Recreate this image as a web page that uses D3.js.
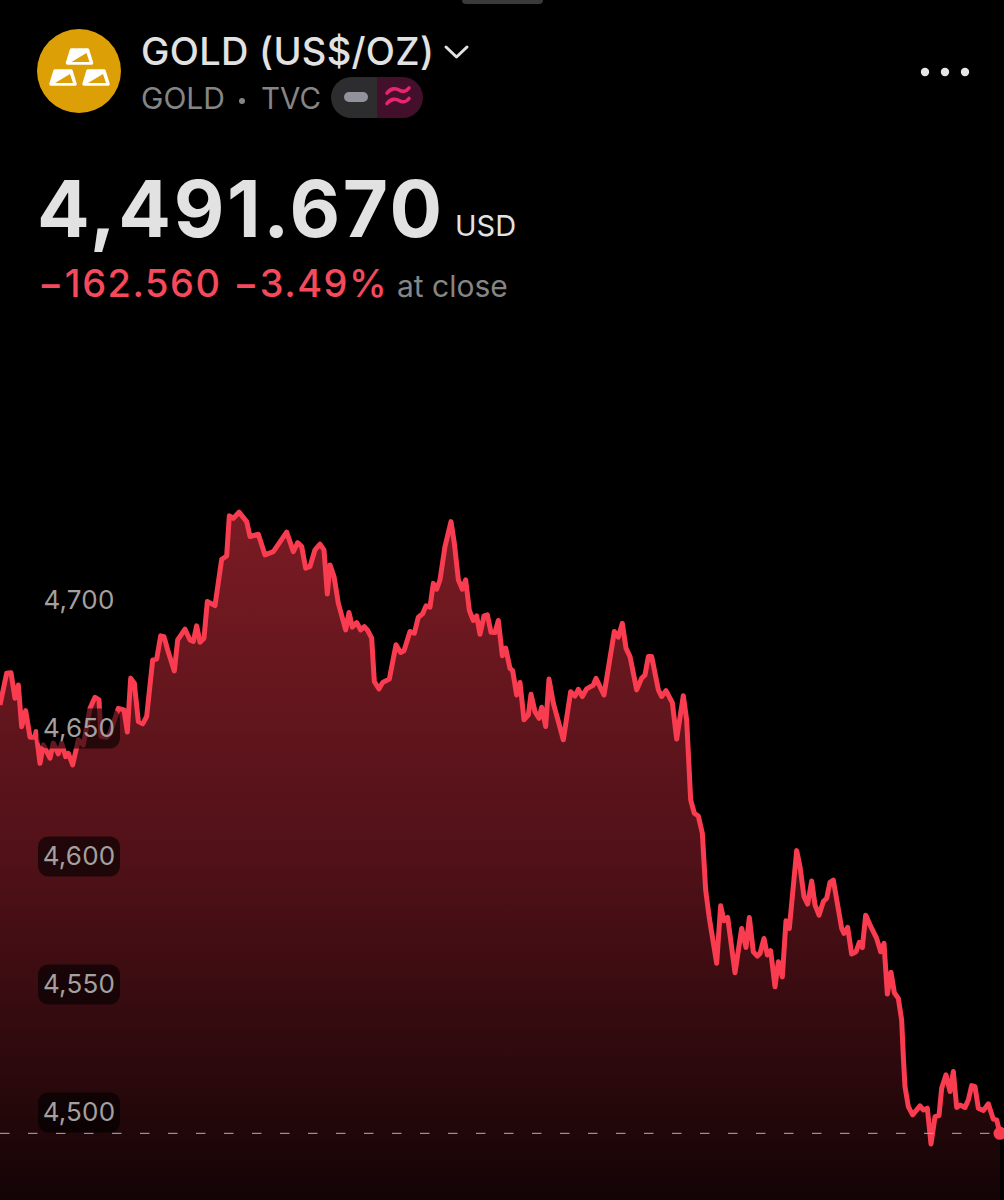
<!DOCTYPE html>
<html>
<head>
<meta charset="utf-8">
<script src="https://cdn.jsdelivr.net/npm/d3@7"></script>
<style>
    html, body { margin: 0; padding: 0; background: #000; }
    svg { display: block; font-family: Inter, "Noto Sans", sans-serif; }
</style>
</head>
<body>
<div id="canvas"></div>
<script>
"use strict"

/* minutes since the start of the session */
const times = [
    0, 10, 16.5, 22.5, 27.5, 32.5, 38.5, 45, 52.5, 54, 56.5, 60, 65, 75, 80, 87.5, 92.5, 98.5, 102.5, 109,
    117.5, 125, 135, 142.5, 148.5, 151.5, 160, 165, 177.5, 186, 191, 196, 201.5, 207.5, 214, 220, 229, 235, 241, 246,
    251.5, 261.5, 266.5, 277.5, 285, 290, 295, 300, 306, 311, 322.5, 332.5, 340, 344, 350, 358.5, 370, 375, 387.5, 397.5,
    410, 430, 440, 446.5, 452.5, 458.5, 465, 472.5, 480, 486, 491, 495, 501, 507.5, 518.5, 523.5, 528.5, 535, 541, 546.5,
    551.5, 557.5, 561.5, 568.5, 574, 584, 594, 601, 606, 615, 621.5, 627.5, 634, 639, 645, 650, 655, 660, 667.5, 676.5,
    681.5, 687.5, 693.5, 698.5, 704, 710, 715, 720, 726, 731, 736.5, 742.5, 747.5, 753.5, 758.5, 765, 769, 775, 780, 786,
    792.5, 796.5, 802.5, 808.5, 812.5, 818.5, 823.5, 830, 845, 856, 862.5, 867.5, 873.5, 880, 890, 894, 906, 921.5, 927.5, 933.5,
    939, 945, 955, 962.5, 967.5, 972.5, 977.5, 987.5, 992.5, 999, 1008.5, 1015, 1025, 1030, 1036, 1041.5, 1047.5, 1053.5, 1058.5, 1064,
    1075, 1081, 1086, 1091.5, 1102.5, 1112.5, 1119, 1124, 1130, 1136, 1140, 1146, 1151, 1156, 1162.5, 1167.5, 1173.5, 1179, 1184, 1195,
    1200, 1206, 1211.5, 1217.5, 1222.5, 1228.5, 1235, 1240, 1245, 1250, 1262.5, 1266, 1271.5, 1277.5, 1284, 1289, 1293.5, 1298.5, 1305, 1315,
    1321, 1326, 1331, 1336.5, 1341.5, 1347.5, 1352.5, 1355, 1357.5, 1362.5, 1369, 1380, 1385, 1391, 1396.5, 1402.5, 1408.5, 1412.5, 1419, 1425,
    1430, 1435, 1440, 1447.5, 1452.5, 1457.5, 1462.5, 1467.5, 1475, 1482.5, 1490, 1495, 1500
];

/* gold price in USD at each of those times */
const prices = [
    4659.0, 4671.4, 4671.6, 4661.6, 4666.8, 4650.5, 4656.8, 4646.4, 4646.4, 4648.6, 4643.4, 4636.2, 4643.4, 4638.2, 4644.1, 4639.9, 4644.1, 4638.8, 4640.1, 4635.6,
    4645.4, 4643.4, 4657.7, 4662.0, 4661.0, 4646.7, 4646.4, 4648.0, 4657.7, 4657.1, 4648.4, 4669.4, 4667.5, 4652.5, 4651.6, 4654.5, 4676.6, 4676.9, 4686.0, 4685.7,
    4680.5, 4672.3, 4684.4, 4688.6, 4684.4, 4683.8, 4689.9, 4683.5, 4685.1, 4699.4, 4697.8, 4715.9, 4717.2, 4732.9, 4731.9, 4734.3, 4730.6, 4724.8, 4725.7, 4717.6,
    4718.9, 4726.5, 4718.9, 4722.4, 4720.9, 4712.4, 4713.1, 4719.6, 4721.8, 4719.6, 4702.3, 4713.7, 4709.2, 4698.7, 4688.3, 4695.1, 4689.4, 4691.2, 4688.3, 4689.6,
    4688.1, 4685.1, 4668.1, 4665.3, 4667.8, 4669.1, 4682.5, 4679.5, 4680.2, 4687.7, 4687.0, 4693.3, 4694.6, 4697.7, 4697.2, 4706.5, 4704.2, 4707.9, 4720.9, 4730.6,
    4722.2, 4707.9, 4704.2, 4707.9, 4695.9, 4692.0, 4693.8, 4686.6, 4693.8, 4694.2, 4687.4, 4687.3, 4692.0, 4678.2, 4681.2, 4673.3, 4672.4, 4662.9, 4667.8, 4653.2,
    4655.1, 4663.2, 4656.4, 4653.8, 4658.1, 4650.6, 4669.1, 4659.7, 4645.4, 4664.2, 4662.5, 4665.1, 4662.3, 4665.3, 4666.8, 4669.4, 4662.9, 4687.7, 4685.5, 4690.9,
    4681.2, 4677.9, 4664.9, 4669.4, 4670.7, 4677.9, 4677.9, 4664.9, 4662.3, 4664.6, 4659.9, 4645.7, 4662.6, 4653.1, 4621.9, 4616.7, 4615.6, 4608.9, 4586.7, 4575.7,
    4558.1, 4580.6, 4574.7, 4576.0, 4554.4, 4571.7, 4564.3, 4576.0, 4562.6, 4560.9, 4561.9, 4567.8, 4561.3, 4563.0, 4548.9, 4558.7, 4552.8, 4574.7, 4571.7, 4602.1,
    4595.8, 4584.1, 4581.2, 4590.2, 4580.9, 4576.9, 4582.2, 4583.5, 4589.7, 4590.6, 4571.7, 4569.8, 4572.1, 4561.7, 4562.6, 4566.3, 4564.2, 4576.9, 4573.1, 4567.8,
    4562.6, 4565.9, 4546.1, 4554.6, 4546.6, 4544.4, 4535.9, 4521.6, 4509.9, 4502.1, 4498.9, 4502.4, 4500.8, 4501.5, 4487.5, 4498.2, 4498.6, 4509.3, 4514.5, 4508.0,
    4515.8, 4501.8, 4502.7, 4501.8, 4504.7, 4510.3, 4509.9, 4501.5, 4500.6, 4503.2, 4497.2, 4496.9, 4491.7
];

const priceTicks = [4700, 4650, 4600, 4550, 4500];
const lastClose = 4491.67;

const width = 1004;
const height = 1200;

let drawing = d3.select("#canvas")
    .append("svg")
    .attr("width", width)
    .attr("height", height);

drawing.append("rect")
    .attr("width", width)
    .attr("height", height)
    .attr("fill", "#000");

let xScale = d3.scaleLinear().domain([0, 1500]).range([0, 1000]);
let yScale = d3.scaleLinear().domain([4500, 4700]).range([1112, 600]);

/* fill under the line, fades out towards the bottom */
let gradient = drawing.append("defs").append("linearGradient")
    .attr("id", "areaFill")
    .attr("gradientUnits", "userSpaceOnUse")
    .attr("x1", 0).attr("x2", 0)
    .attr("y1", 515).attr("y2", height);
gradient.append("stop").attr("offset", "0%").attr("stop-color", "#7a1b23");
gradient.append("stop").attr("offset", "50%").attr("stop-color", "#511118");
gradient.append("stop").attr("offset", "100%").attr("stop-color", "#140405");

const series = times.map((t, i) => [t, prices[i]]);

let area = d3.area()
    .x(d => xScale(d[0]))
    .y0(height)
    .y1(d => yScale(d[1]));

let line = d3.line()
    .x(d => xScale(d[0]))
    .y(d => yScale(d[1]));

drawing.append("path")
    .attr("d", area(series))
    .attr("fill", "url(#areaFill)");

drawing.append("path")
    .attr("d", line(series))
    .attr("fill", "none")
    .attr("stroke", "#f93c4f")
    .attr("stroke-width", 5)
    .attr("stroke-linejoin", "round");

/* dashed line at the last close */
drawing.append("line")
    .attr("x1", 0)
    .attr("x2", width)
    .attr("y1", yScale(lastClose))
    .attr("y2", yScale(lastClose))
    .attr("stroke", "#b5b0b0")
    .attr("stroke-width", 1)
    .attr("stroke-dasharray", "9.5 18.5");

drawing.append("circle")
    .attr("cx", xScale(times[times.length - 1]))
    .attr("cy", yScale(lastClose))
    .attr("r", 6.5)
    .attr("fill", "#f93c4f");

/* price labels sit on dark rounded boxes */
let axis = drawing.append("g")
    .attr("transform", "translate(79,0)")
    .call(d3.axisRight(yScale).tickValues(priceTicks).tickFormat(d3.format(",")).tickSize(0).tickPadding(0));

axis.select(".domain").remove();

axis.selectAll(".tick").insert("rect", "text")
    .attr("x", -41)
    .attr("y", -20)
    .attr("width", 82)
    .attr("height", 40)
    .attr("rx", 10)
    .attr("fill", "#000")
    .attr("fill-opacity", 0.6);

axis.selectAll(".tick text")
    .attr("text-anchor", "middle")
    .attr("font-family", "Inter, sans-serif")
    .attr("font-size", 26)
    .attr("letter-spacing", 0.2)
    .attr("fill", "#a3a09f");

/* header */
drawing.append("rect")
    .attr("x", 462)
    .attr("y", -8)
    .attr("width", 81)
    .attr("height", 12)
    .attr("rx", 4)
    .attr("fill", "#3a3a3c");

drawing.append("circle")
    .attr("cx", 79)
    .attr("cy", 71)
    .attr("r", 42)
    .attr("fill", "#dc9f05");

/* gold bars icon */
function goldBar(dx, dy) {
    let bar = drawing.append("g").attr("transform", "translate(" + dx + "," + dy + ")");
    bar.append("path")
        .attr("d", "M-8,-7 L8,-7 L12,6 L-12,6 Z")
        .attr("fill", "#fff")
        .attr("stroke", "#fff")
        .attr("stroke-width", 3.5)
        .attr("stroke-linejoin", "round");
    bar.append("path")
        .attr("d", "M7,-4 L10,5 L-8,5 Z")
        .attr("fill", "#dc9f05");
}
goldBar(79.5, 57);
goldBar(63, 78);
goldBar(96, 78);

drawing.append("text")
    .attr("x", 141)
    .attr("y", 65)
    .attr("font-size", 38)
    .attr("font-weight", 500)
    .attr("letter-spacing", 0.3)
    .attr("fill", "#e2e2e2")
    .text("GOLD (US$/OZ)");

drawing.append("path")
    .attr("d", "M446,47 L456.5,57 L467,47")
    .attr("fill", "none")
    .attr("stroke", "#e2e2e2")
    .attr("stroke-width", 3)
    .attr("stroke-linecap", "round")
    .attr("stroke-linejoin", "round");

drawing.append("text")
    .attr("x", 141)
    .attr("y", 109)
    .attr("font-size", 30)
    .attr("fill", "#858585")
    .text("GOLD");

drawing.append("circle")
    .attr("cx", 242)
    .attr("cy", 101)
    .attr("r", 3)
    .attr("fill", "#858585");

drawing.append("text")
    .attr("x", 261)
    .attr("y", 109)
    .attr("font-size", 29.5)
    .attr("fill", "#858585")
    .text("TVC");

/* status pill, two halves */
drawing.append("clipPath")
    .attr("id", "pillClip")
    .append("rect")
    .attr("x", 331)
    .attr("y", 77)
    .attr("width", 92)
    .attr("height", 41)
    .attr("rx", 20.5);

let pill = drawing.append("g").attr("clip-path", "url(#pillClip)");
pill.append("rect")
    .attr("x", 331).attr("y", 77)
    .attr("width", 46).attr("height", 41)
    .attr("fill", "#2d2d30");
pill.append("rect")
    .attr("x", 377).attr("y", 77)
    .attr("width", 46).attr("height", 41)
    .attr("fill", "#42102a");

drawing.append("rect")
    .attr("x", 344)
    .attr("y", 92)
    .attr("width", 24)
    .attr("height", 10)
    .attr("rx", 5)
    .attr("fill", "#92929c");

/* the two waves of the pink icon */
[0, 10.5].forEach(function (dy) {
    drawing.append("path")
        .attr("d", "M387,93 C391,88 396,88 399,90 C402,92 406,92 409,88")
        .attr("transform", "translate(0," + dy + ")")
        .attr("fill", "none")
        .attr("stroke", "#e8246f")
        .attr("stroke-width", 3.6)
        .attr("stroke-linecap", "round");
});

/* three dots menu */
[925, 945, 965].forEach(function (cx) {
    drawing.append("circle")
        .attr("cx", cx)
        .attr("cy", 72)
        .attr("r", 4.2)
        .attr("fill", "#e6e6e6");
});

drawing.append("text")
    .attr("x", 37)
    .attr("y", 237)
    .attr("font-size", 78)
    .attr("font-weight", 700)
    .attr("letter-spacing", 2.6)
    .attr("fill", "#e2e2e2")
    .text("4,491.670");

drawing.append("text")
    .attr("x", 455)
    .attr("y", 236)
    .attr("font-size", 29)
    .attr("fill", "#e2e2e2")
    .text("USD");

drawing.append("text")
    .attr("x", 38)
    .attr("y", 297)
    .attr("font-size", 38)
    .attr("font-weight", 500)
    .attr("letter-spacing", 1.5)
    .attr("fill", "#f5495c")
    .text("−162.560 −3.49%");

drawing.append("text")
    .attr("x", 397)
    .attr("y", 297)
    .attr("font-size", 30)
    .attr("fill", "#858585")
    .text("at close");
</script>
</body>
</html>
